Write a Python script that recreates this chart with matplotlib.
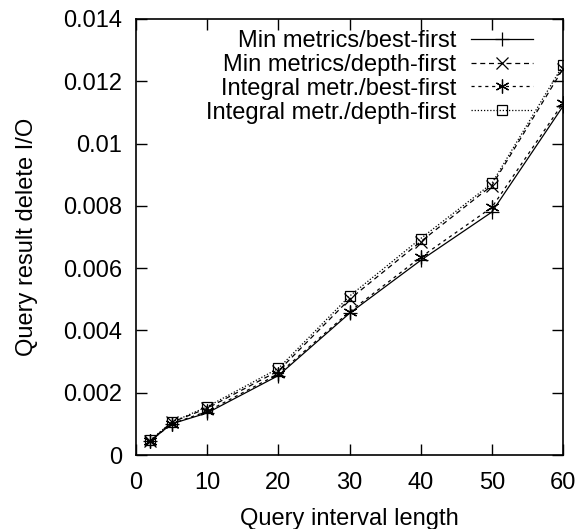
import matplotlib
matplotlib.use('Agg')
import matplotlib.pyplot as plt

plt.rcParams['font.family'] = ['Liberation Sans', 'DejaVu Sans']

# query interval lengths
x = [2, 5, 10, 20, 30, 40, 50, 60]

min_best = [0.00045, 0.00100, 0.00135, 0.00255, 0.00455, 0.00625, 0.00780, 0.01120]
min_depth = [0.00045, 0.00105, 0.00150, 0.00270, 0.00500, 0.00685, 0.00865, 0.01240]
int_best = [0.00045, 0.00100, 0.00140, 0.00260, 0.00460, 0.00635, 0.00795, 0.01130]
int_depth = [0.00048, 0.00105, 0.00155, 0.00278, 0.00510, 0.00695, 0.00872, 0.01252]

labels = ['Min metrics/best-first', 'Min metrics/depth-first',
          'Integral metr./best-first', 'Integral metr./depth-first']

fs = 17
fig = plt.figure(figsize=(5.76, 5.29), dpi=100)
ax = fig.add_axes([136/576, 1 - 455/529, (563-136)/576, (455-19)/529])

lw = 0.9
ax.plot(x, min_best, color='black', lw=lw, ls='-', marker='+', ms=10, mew=0.9, label=labels[0])
ax.plot(x, min_depth, color='black', lw=lw, ls=(0, (4, 3)), marker='x', ms=8, mew=0.9, label=labels[1])
ax.plot(x, int_best, color='black', lw=lw, ls=(0, (2.5, 3)), marker=(6, 2, 0), ms=10, mew=0.9, label=labels[2])
ax.plot(x, int_depth, color='black', lw=lw, ls=(0, (1, 1.5)), marker='s', ms=7.5, mew=0.9,
        mfc='none', label=labels[3])

ax.set_xlim(0, 60)
ax.set_ylim(0, 0.014)
ax.set_xticks([0, 10, 20, 30, 40, 50, 60])
ax.set_yticks([0, 0.002, 0.004, 0.006, 0.008, 0.01, 0.012, 0.014])
ax.set_yticklabels(['0', '0.002', '0.004', '0.006', '0.008', '0.01', '0.012', '0.014'])
ax.tick_params(direction='in', length=8, width=1, top=True, right=True, labelsize=fs)
ax.tick_params(axis='x', pad=12)
ax.tick_params(axis='y', pad=10)
for s in ax.spines.values():
    s.set_linewidth(1.2)

ax.set_xlabel('Query interval length', fontsize=fs, labelpad=10)
ax.set_ylabel('Query result delete I/O', fontsize=fs, labelpad=18)

ax.legend(loc='upper right', bbox_to_anchor=(0.93, 0.975), frameon=False, markerfirst=False,
          fontsize=fs, handlelength=2.65, labelspacing=0.08, handletextpad=0.6,
          borderaxespad=0.0, borderpad=0.0)

fig.savefig('out.png', dpi=100)
